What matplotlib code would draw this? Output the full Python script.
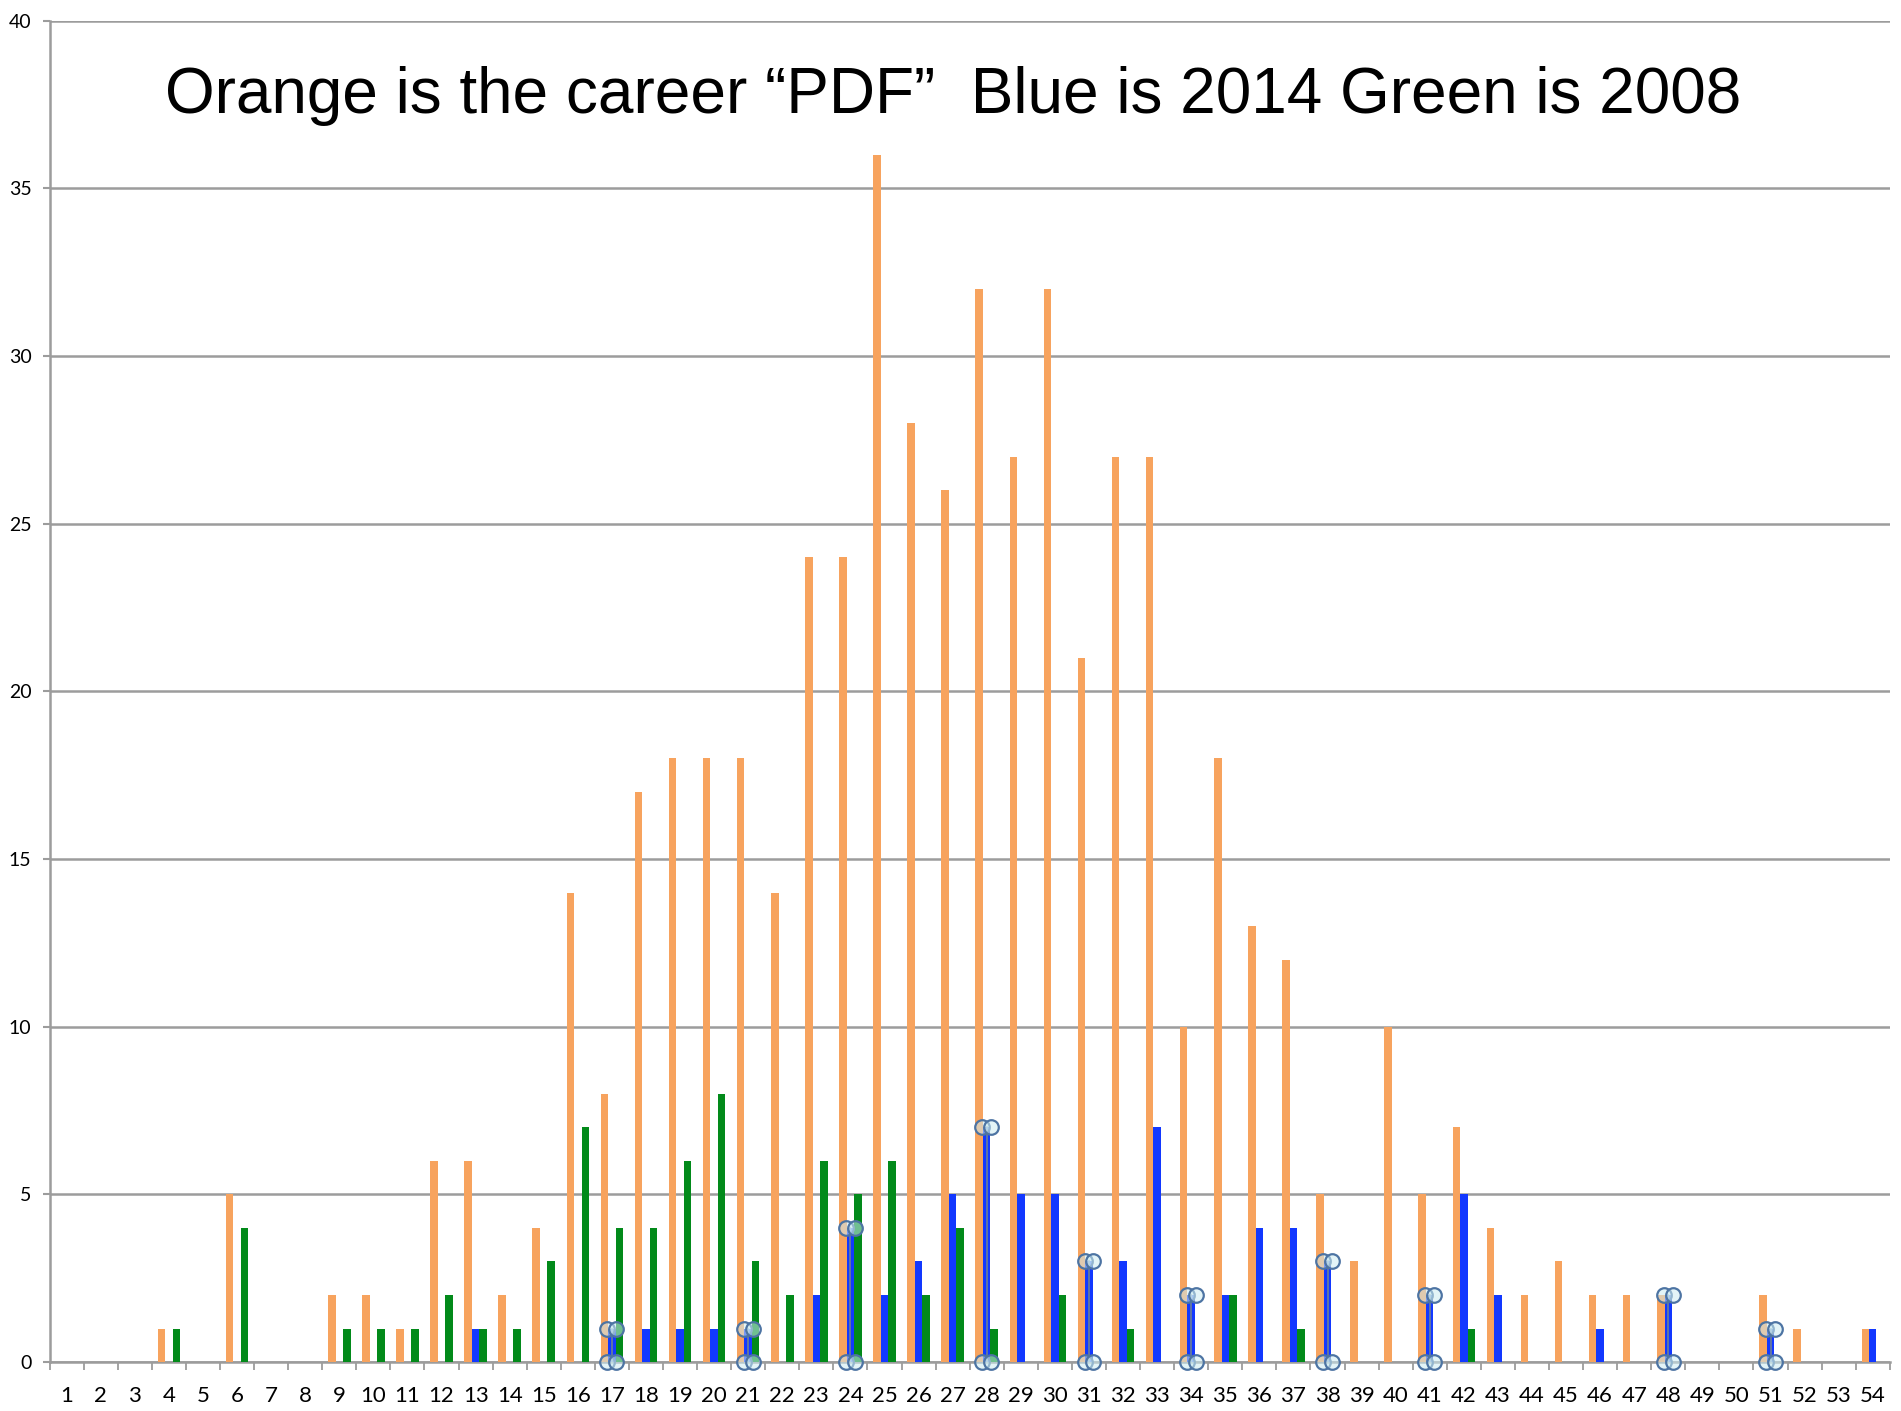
import numpy as np
import matplotlib.pyplot as plt

# categorias 1..54 e contagens de cada série
categorias = list(range(1, 55))

laranja = [0, 0, 0, 1, 0, 5, 0, 0, 2, 2, 1, 6, 6, 2, 4, 14, 8, 17, 18, 18,
           18, 14, 24, 24, 36, 28, 26, 32, 27, 32, 21, 27, 27, 10, 18, 13, 12, 5, 3, 10,
           5, 7, 4, 2, 3, 2, 2, 2, 0, 0, 2, 1, 0, 1]

azul = [0, 0, 0, 0, 0, 0, 0, 0, 0, 0, 0, 0, 1, 0, 0, 0, 1, 1, 1, 1,
        1, 0, 2, 4, 2, 3, 5, 7, 5, 5, 3, 3, 7, 2, 2, 4, 4, 3, 0, 0,
        2, 5, 2, 0, 0, 1, 0, 2, 0, 0, 1, 0, 0, 1]

verde = [0, 0, 0, 1, 0, 4, 0, 0, 1, 1, 1, 2, 1, 1, 3, 7, 4, 4, 6, 8,
         3, 2, 6, 5, 6, 2, 4, 1, 0, 2, 0, 1, 0, 0, 2, 0, 1, 0, 0, 0,
         0, 1, 0, 0, 0, 0, 0, 0, 0, 0, 0, 0, 0, 0]

# barras azuis com as alças de seleção
selecionadas = [17, 21, 24, 28, 31, 34, 38, 41, 48, 51]

titulo = 'Orange is the career \u201cPDF\u201d  Blue is 2014 Green is 2008'

cor_laranja = '#F7A35E'
cor_azul = '#1238FF'
cor_verde = '#028A1A'
cor_grade = '#9C9C9C'

fig = plt.figure(figsize=(19.01, 14.11), dpi=100)
ax = fig.add_axes([0.0261, 0.0347, 0.968, 0.9507])

x = np.array(categorias)
larg = 0.22

ax.bar(x - larg, laranja, width=larg, color=cor_laranja, zorder=3)
ax.bar(x, azul, width=larg, color=cor_azul, zorder=3)
ax.bar(x + larg, verde, width=larg, color=cor_verde, zorder=3)

# alças (dois círculos em cima e embaixo de cada barra selecionada)
for c in selecionadas:
    v = azul[c - 1]
    ax.plot([c, c], [0, v], color='#6d7f96', lw=1.2, zorder=4)
    for dx in (-0.13, 0.13):
        ax.plot([c + dx, c + dx], [0, v], 'o', ms=10.5,
                markerfacecolor=(0.80, 0.92, 0.95, 0.55),
                markeredgecolor='#4d74a3', markeredgewidth=1.6,
                linestyle='none', zorder=5, clip_on=False)

ax.set_xlim(0.5, 54.5)
ax.set_ylim(0, 40)

# grade horizontal
ax.set_yticks(np.arange(0, 41, 5))
ax.set_yticklabels([str(v) for v in range(0, 41, 5)])
ax.yaxis.grid(True, color=cor_grade, linewidth=1.8, zorder=0)
ax.xaxis.grid(False)
ax.set_axisbelow(True)

# rótulos no centro de cada categoria, marcas nos limites
ax.set_xticks(x)
ax.set_xticklabels([str(c) for c in categorias])
ax.set_xticks(np.arange(0.5, 55, 1), minor=True)
ax.tick_params(axis='x', which='major', length=0, pad=17, labelsize=16)
ax.tick_params(axis='x', which='minor', length=5.5, width=1.3, color=cor_grade)
ax.tick_params(axis='y', length=5, width=1.5, color=cor_grade, pad=8, labelsize=14)
for lab in ax.get_xticklabels() + ax.get_yticklabels():
    lab.set_family(['Lato', 'DejaVu Sans'])

for lado in ('top', 'right'):
    ax.spines[lado].set_visible(False)
for lado in ('left', 'bottom'):
    ax.spines[lado].set_color(cor_grade)
    ax.spines[lado].set_linewidth(1.8)

fig.text(0.5015, 0.9318, titulo, ha='center', va='center', fontsize=46,
         family=['Liberation Sans', 'DejaVu Sans'])

plt.savefig('out.png', dpi=100)
